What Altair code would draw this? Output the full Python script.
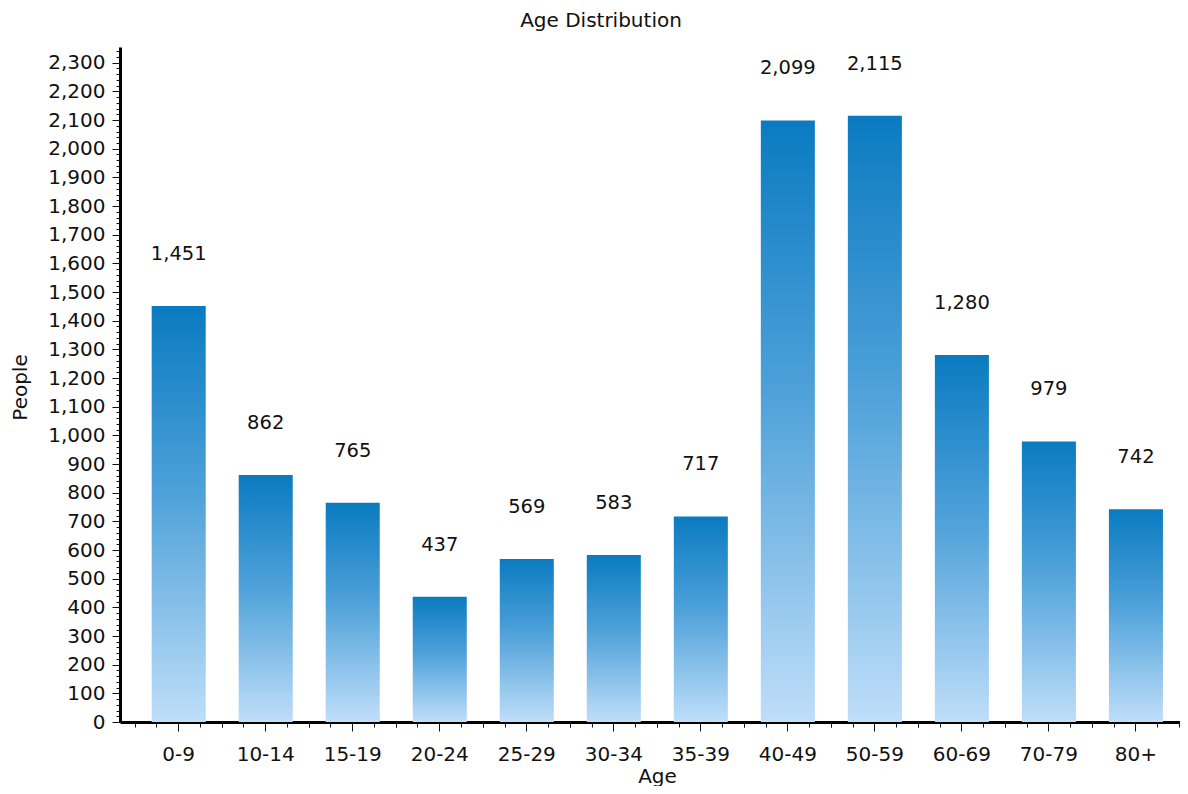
import altair as alt
import pandas as pd

ages = ["0-9", "10-14", "15-19", "20-24", "25-29", "30-34", "35-39",
        "40-49", "50-59", "60-69", "70-79", "80+"]
people = [1451, 862, 765, 437, 569, 583, 717, 2099, 2115, 1280, 979, 742]
y_major = list(range(0, 2301, 100))
y_minor = list(range(0, 2360, 20))

df = pd.DataFrame({"age": ages, "people": people})

FONT = "DejaVu Sans"
TXT = "#111111"

xscale = alt.Scale(domain=ages, paddingInner=0.379, paddingOuter=0.28, align=0.65)
yscale = alt.Scale(domain=[0, 2355], nice=False, zero=True)

grad = alt.Gradient(
    gradient="linear",
    stops=[
        alt.GradientStop(color="#0a7bc1", offset=0),
        alt.GradientStop(color="#4ea1d9", offset=0.45),
        alt.GradientStop(color="#bfdef9", offset=1),
    ],
    x1=0, x2=0, y1=0, y2=1,
)

yaxis_main = alt.Axis(
    orient="left", values=y_major,
    labelExpr="format(datum.value, ',')",
    tickSize=8, tickColor=TXT, tickWidth=1,
    domainColor="#000000", domainWidth=3,
    labelFont=FONT, labelFontSize=20, labelColor=TXT, labelPadding=7,
    labelOverlap=False, labelBound=False,
    grid=False,
    title="People", titleFont=FONT, titleFontSize=20, titleFontWeight="normal",
    titleColor=TXT, titleX=-90, titleY=340,
)

xaxis_main = alt.Axis(
    orient="bottom", bandPosition=0.5,
    tickSize=9, tickColor=TXT, tickWidth=1,
    domainColor="#000000", domainWidth=3,
    labelFont=FONT, labelFontSize=20, labelColor=TXT, labelPadding=13,
    labelAngle=0, grid=False,
    title="Age", titleFont=FONT, titleFontSize=20, titleFontWeight="normal",
    titleColor=TXT, titleX=537, titleY=44, titleBaseline="top",
)

bars = alt.Chart(df).mark_bar(color=grad).encode(
    x=alt.X("age:N", scale=xscale, sort=ages, axis=xaxis_main),
    y=alt.Y("people:Q", scale=yscale, axis=yaxis_main),
)

labels = alt.Chart(df).mark_text(
    font=FONT, fontSize=19.5, color=TXT, baseline="middle", dy=-52
).encode(
    x=alt.X("age:N", scale=xscale, sort=ages, axis=None),
    y=alt.Y("people:Q", scale=yscale, axis=None),
    text=alt.Text("people:Q", format=","),
)

y_minor_layer = alt.Chart(df).mark_bar(opacity=0).encode(
    x=alt.X("age:N", scale=xscale, sort=ages, axis=None),
    y=alt.Y("people:Q", scale=yscale, axis=alt.Axis(
        orient="left", values=y_minor, tickSize=4, tickColor=TXT, tickWidth=1,
        domain=False, labels=False, grid=False, title=None)),
)

minor_layers = []
for bp in [-0.3056, 0.0972, 0.9028, 1.3056]:
    minor_layers.append(
        alt.Chart(df).mark_bar(opacity=0).encode(
            x=alt.X("age:N", scale=xscale, sort=ages, axis=alt.Axis(
                orient="bottom", bandPosition=bp, tickSize=5, tickColor=TXT,
                tickWidth=1, domain=False, labels=False, grid=False, title=None)),
            y=alt.Y("people:Q", scale=yscale, axis=None),
        )
    )

chart = alt.layer(bars, labels, y_minor_layer, *minor_layers).resolve_axis(
    x="independent", y="independent"
).properties(
    width=1060,
    height=675,
    background="white",
    autosize=alt.AutoSizeParams(type="none"),
    padding={"left": 112, "top": 39, "right": 0, "bottom": 64},
    title=alt.TitleParams(
        "Age Distribution", font=FONT, fontSize=20, fontWeight="normal",
        color=TXT, anchor="middle", frame="group", dx=-49, offset=16,
    ),
).configure_view(stroke="transparent", strokeWidth=0)

chart.save("out.html", embed_options={"renderer": "svg", "actions": False})
